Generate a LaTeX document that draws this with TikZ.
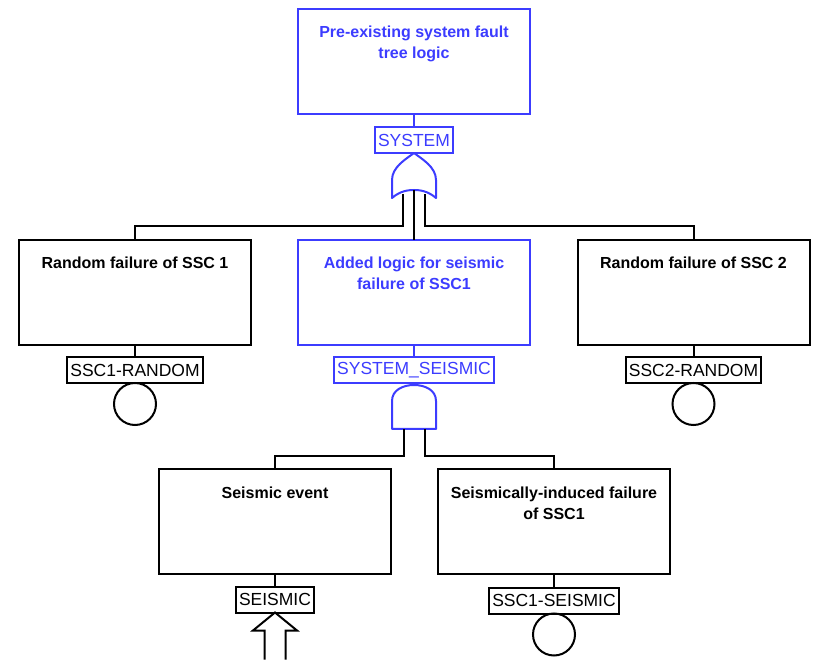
\documentclass[tikz,border=0pt]{standalone}
\usepackage{fontspec}
\setmainfont{Liberation Sans}
\usepackage{xcolor}
\usetikzlibrary{positioning}
\definecolor{ftblue}{RGB}{60,60,255}

\begin{document}
\begin{tikzpicture}[x=1pt, y=-1pt, line width=2pt,
    descbox/.style={draw, minimum width=232pt, minimum height=105pt, inner sep=0pt, outer sep=0pt},
    desctext/.style={anchor=north, align=center, inner sep=0pt, yshift=-16pt, font=\bfseries\fontsize{16}{21}\selectfont},
    tag/.style={draw, inner xsep=3pt, inner ysep=0pt, minimum height=26pt, outer sep=0pt, font=\fontsize{17.5}{17.5}\selectfont},
    basic/.style={draw, circle, minimum size=42pt, inner sep=0pt, outer sep=0pt}]
    \useasboundingbox (0,0) rectangle (815,660);

    % Cây lỗi hệ thống có sẵn
    \node[descbox, ftblue, label={[desctext, text=ftblue]north:Pre-existing system fault\\tree logic}] (top) at (414,61.5) {};
    \node[tag, ftblue, below=13pt of top] (systag) {SYSTEM};
    \draw[ftblue] (top.south) -- (systag.north);

    % Cổng OR
    \begin{scope}[shift={(systag.south)}]
        \draw[ftblue, line join=round] (0,0) .. controls (8,6) and (22,14) .. (22,27) -- (22,45)
            .. controls (14,38) and (6,37) .. (0,37) .. controls (-6,37) and (-14,38) .. (-22,45)
            -- (-22,27) .. controls (-22,14) and (-8,6) .. (0,0) -- cycle;
        \coordinate (orL) at (-11,41);
        \coordinate (orM) at (0,37);
        \coordinate (orR) at (11,41);
    \end{scope}

    % Hàng giữa
    \node[descbox, label={[desctext]north:Random failure of SSC 1}] (rnd1) at (135,292.5) {};
    \node[descbox, ftblue, label={[desctext, text=ftblue]north:Added logic for seismic\\failure of SSC1}] (mid) at (414,292.5) {};
    \node[descbox, label={[desctext]north:Random failure of SSC 2}] (rnd2) at (693.5,292.5) {};

    \draw (orM) -- (mid.north);
    \draw (orL) -- ++(0,32) -| (rnd1.north);
    \draw (orR) -- ++(0,32) -| (rnd2.north);

    \node[tag, below=12pt of rnd1] (rnd1tag) {SSC1-RANDOM};
    \node[tag, ftblue, below=12pt of mid] (seistag) {SYSTEM\_SEISMIC};
    \node[tag, below=12pt of rnd2] (rnd2tag) {SSC2-RANDOM};
    \draw (rnd1.south) -- (rnd1tag.north);
    \draw[ftblue] (mid.south) -- (seistag.north);
    \draw (rnd2.south) -- (rnd2tag.north);

    \node[basic, below=0pt of rnd1tag] (rnd1ev) {};
    \node[basic, below=0pt of rnd2tag] (rnd2ev) {};

    % Cổng AND
    \begin{scope}[shift={(seistag.south)}]
        \draw[ftblue, line join=round] (-22,46) -- (-22,18) .. controls (-22,7) and (-11,2) .. (0,2)
            .. controls (11,2) and (22,7) .. (22,18) -- (22,46) -- cycle;
        \coordinate (andL) at (-10.5,46);
        \coordinate (andR) at (10.5,46);
    \end{scope}

    % Hàng dưới
    \node[descbox, label={[desctext]north:Seismic event}] (seis) at (275,522) {};
    \node[descbox, label={[desctext]north:Seismically-induced failure\\of SSC1}] (ind) at (554,522) {};
    \draw (andL) -- ++(0,27) -| (seis.north);
    \draw (andR) -- ++(0,27) -| (ind.north);

    \node[tag, below=12pt of seis] (eqtag) {SEISMIC};
    \node[tag, below=13pt of ind] (indtag) {SSC1-SEISMIC};
    \draw (seis.south) -- (eqtag.north);
    \draw (ind.south) -- (indtag.north);

    \node[basic, below=0pt of indtag] (indev) {};

    % Ký hiệu chuyển
    \begin{scope}[shift={(eqtag.south)}]
        \draw[line join=miter] (-10.5,47) -- (-10.5,18) -- (-22,18) -- (0,0) -- (22,18) -- (10.5,18) -- (10.5,47);
    \end{scope}
\end{tikzpicture}
\end{document}
